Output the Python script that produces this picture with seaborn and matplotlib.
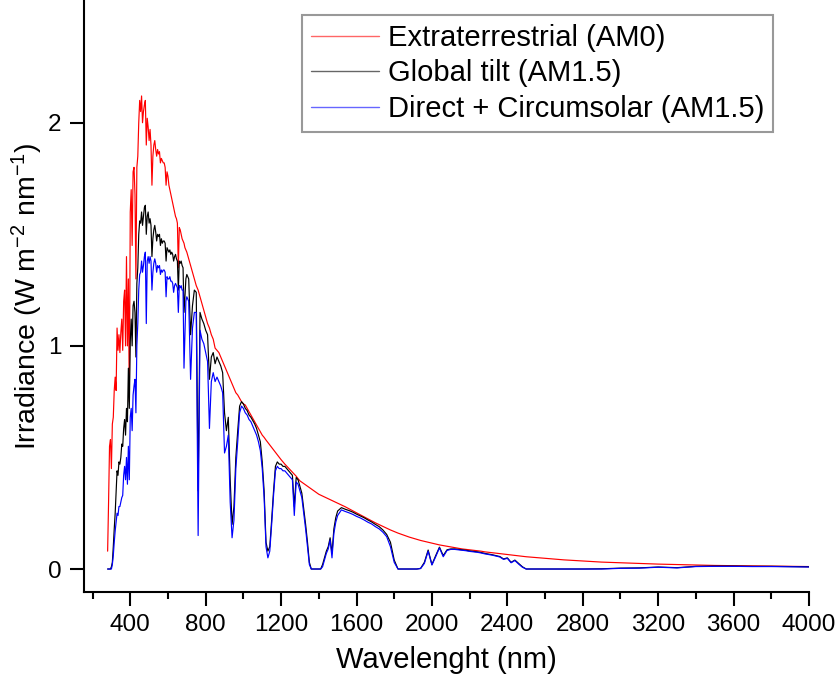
import matplotlib
matplotlib.use("Agg")
import matplotlib.pyplot as plt
from matplotlib.ticker import MultipleLocator
import seaborn as sns

# wavelength grid (nm), denser where the spectrum has structure
WAVELENGTH_NM = [
    280, 285, 290, 295, 300, 305, 310, 315, 320, 325,
    330, 335, 340, 345, 350, 355, 360, 365, 370, 375,
    380, 385, 390, 395, 400, 405, 410, 415, 420, 425,
    430, 435, 440, 445, 450, 455, 460, 465, 470, 475,
    480, 485, 490, 495, 500, 505, 510, 515, 520, 525,
    530, 535, 540, 545, 550, 555, 560, 565, 570, 575,
    580, 585, 590, 595, 600, 605, 610, 615, 620, 625,
    630, 635, 640, 645, 650, 655, 660, 665, 670, 675,
    680, 685, 690, 695, 700,
    710, 720, 730, 740, 750, 760, 770, 780, 790, 800,
    810, 820, 830, 840, 850, 860, 870, 880, 890, 900,
    910, 920, 930, 940, 950, 960, 970, 980, 990, 1000,
    1010, 1020, 1030, 1040, 1050, 1060, 1070, 1080, 1090, 1100,
    1110, 1120, 1130, 1140, 1150, 1160, 1170, 1180, 1190, 1200,
    1210, 1220, 1230, 1240, 1250, 1260, 1270, 1280, 1290, 1300,
    1310, 1320, 1330, 1340, 1350, 1360, 1370, 1380, 1390, 1400,
    1410, 1420, 1430, 1440, 1450, 1460, 1470, 1480, 1490, 1500,
    1520, 1540, 1560, 1580, 1600, 1620, 1640, 1660, 1680, 1700,
    1720, 1740, 1760, 1780, 1800, 1820, 1840, 1860, 1880, 1900,
    1920, 1940, 1960, 1980, 2000, 2020, 2040, 2060, 2080, 2100,
    2120, 2140, 2160, 2180, 2200, 2220, 2240, 2260, 2280, 2300,
    2320, 2340, 2360, 2380, 2400, 2420, 2440, 2460, 2480, 2500,
    2600, 2700, 2800, 2900, 3000, 3100, 3200, 3300, 3400, 3500,
    3600, 3700, 3800, 3900, 4000,
]

# irradiance, W m-2 nm-1
AM0 = [
    0.08, 0.30, 0.55, 0.58, 0.45, 0.65, 0.68, 0.80, 0.86, 0.80,
    1.08, 0.98, 1.05, 0.97, 1.06, 1.12, 0.98, 1.20, 1.25, 1.00,
    1.40, 1.00, 1.30, 0.75, 1.60, 1.70, 1.45, 1.78, 1.80, 1.68,
    1.30, 1.80, 1.85, 2.00, 2.10, 2.05, 2.12, 2.00, 2.05, 2.08,
    2.10, 1.90, 2.02, 1.98, 1.92, 1.97, 1.90, 1.72, 1.85, 1.90,
    1.92, 1.88, 1.85, 1.88, 1.86, 1.87, 1.82, 1.84, 1.83, 1.82,
    1.82, 1.80, 1.72, 1.78, 1.76, 1.72, 1.70, 1.68, 1.66, 1.64,
    1.62, 1.60, 1.58, 1.57, 1.55, 1.35, 1.53, 1.52, 1.50, 1.48,
    1.47, 1.46, 1.44, 1.43, 1.42,
    1.39, 1.36, 1.33, 1.30, 1.27, 1.25, 1.22, 1.19, 1.16, 1.13,
    1.10, 1.08, 1.05, 1.03, 0.99, 0.98, 0.97, 0.95, 0.93, 0.91,
    0.89, 0.87, 0.85, 0.83, 0.81, 0.79, 0.78, 0.765, 0.75, 0.74,
    0.735, 0.72, 0.705, 0.69, 0.675, 0.66, 0.645, 0.63, 0.615, 0.60,
    0.59, 0.578, 0.567, 0.556, 0.545, 0.534, 0.523, 0.512, 0.501, 0.49,
    0.48, 0.47, 0.461, 0.452, 0.443, 0.434, 0.425, 0.416, 0.405, 0.395,
    0.389, 0.383, 0.377, 0.371, 0.365, 0.359, 0.353, 0.347, 0.341, 0.335,
    0.331, 0.327, 0.323, 0.319, 0.315, 0.311, 0.307, 0.303, 0.299, 0.295,
    0.287, 0.279, 0.27, 0.261, 0.252, 0.243, 0.234, 0.225, 0.216, 0.207,
    0.199, 0.191, 0.183, 0.175, 0.168, 0.161, 0.155, 0.149, 0.143, 0.138,
    0.133, 0.128, 0.124, 0.12, 0.116, 0.112, 0.108, 0.105, 0.102, 0.099,
    0.096, 0.093, 0.09, 0.088, 0.086, 0.084, 0.082, 0.08, 0.077, 0.075,
    0.073, 0.071, 0.069, 0.067, 0.065, 0.063, 0.061, 0.059, 0.057, 0.055,
    0.048, 0.041, 0.036, 0.031, 0.028, 0.025, 0.022, 0.02, 0.018, 0.016,
    0.015, 0.014, 0.013, 0.012, 0.011,
]

AM15_GLOBAL = [
    0.0, 0.0, 0.0, 0.0, 0.01, 0.03, 0.10, 0.18, 0.25, 0.35,
    0.44, 0.42, 0.48, 0.47, 0.50, 0.56, 0.55, 0.63, 0.67, 0.60,
    0.72, 0.66, 0.90, 0.72, 1.02, 1.12, 1.00, 1.18, 1.20, 1.15,
    0.95, 1.28, 1.35, 1.50, 1.56, 1.55, 1.60, 1.54, 1.58, 1.62,
    1.63, 1.50, 1.58, 1.60, 1.55, 1.57, 1.54, 1.40, 1.48, 1.52,
    1.54, 1.51, 1.47, 1.50, 1.49, 1.50, 1.45, 1.48, 1.46, 1.47,
    1.47, 1.46, 1.38, 1.44, 1.43, 1.42, 1.43, 1.41, 1.42, 1.41,
    1.38, 1.40, 1.41, 1.39, 1.38, 1.25, 1.38, 1.37, 1.38, 1.36,
    1.35, 1.15, 1.22, 1.30, 1.32,
    1.30, 1.05, 1.18, 1.25, 1.24, 0.35, 1.15, 1.12, 1.10, 1.07,
    1.05, 0.85, 0.95, 0.97, 0.92, 0.95, 0.93, 0.91, 0.88, 0.70,
    0.62, 0.68, 0.40, 0.20, 0.28, 0.50, 0.62, 0.73, 0.75, 0.74,
    0.72, 0.71, 0.69, 0.68, 0.665, 0.65, 0.63, 0.60, 0.57, 0.48,
    0.35, 0.12, 0.08, 0.10, 0.22, 0.35, 0.46, 0.48, 0.47, 0.47,
    0.46, 0.46, 0.45, 0.44, 0.43, 0.42, 0.28, 0.41, 0.40, 0.37,
    0.34, 0.27, 0.20, 0.12, 0.03, 0.0, 0.0, 0.0, 0.0, 0.0,
    0.0, 0.02, 0.05, 0.08, 0.10, 0.14, 0.07, 0.18, 0.23, 0.26,
    0.275, 0.268, 0.262, 0.255, 0.246, 0.238, 0.23, 0.22, 0.211, 0.2,
    0.19, 0.175, 0.155, 0.12, 0.04, 0.0, 0.0, 0.0, 0.0, 0.0,
    0.0, 0.003, 0.03, 0.085, 0.02, 0.06, 0.098, 0.06, 0.086, 0.09,
    0.09, 0.088, 0.086, 0.084, 0.081, 0.079, 0.077, 0.074, 0.07, 0.067,
    0.064, 0.06, 0.056, 0.045, 0.05, 0.03, 0.04, 0.025, 0.01, 0.0,
    0.0, 0.0, 0.0, 0.001, 0.004, 0.005, 0.009, 0.006, 0.012, 0.013,
    0.013, 0.012, 0.012, 0.011, 0.010,
]

AM15_DIRECT = [
    0.0, 0.0, 0.0, 0.0, 0.0, 0.02, 0.06, 0.12, 0.17, 0.21,
    0.25, 0.24, 0.28, 0.28, 0.30, 0.32, 0.33, 0.42, 0.46, 0.40,
    0.50, 0.38, 0.55, 0.40, 0.68, 0.72, 0.62, 0.78, 0.82, 0.85,
    0.70, 1.00, 1.10, 1.25, 1.32, 1.33, 1.38, 1.33, 1.36, 1.40,
    1.42, 1.10, 1.38, 1.40, 1.37, 1.40, 1.38, 1.25, 1.33, 1.37,
    1.39, 1.37, 1.33, 1.36, 1.35, 1.36, 1.32, 1.34, 1.33, 1.34,
    1.34, 1.33, 1.22, 1.31, 1.30, 1.30, 1.31, 1.29, 1.29, 1.28,
    1.24, 1.27, 1.28, 1.27, 1.26, 1.15, 1.27, 1.26, 1.27, 1.25,
    1.25, 0.90, 1.05, 1.20, 1.22,
    1.20, 0.85, 1.08, 1.15, 1.15, 0.15, 1.07, 1.03, 1.01, 0.97,
    0.93, 0.63, 0.84, 0.88, 0.84, 0.86, 0.84, 0.82, 0.79, 0.52,
    0.55, 0.60, 0.30, 0.14, 0.22, 0.45, 0.57, 0.70, 0.73, 0.72,
    0.70, 0.69, 0.67, 0.66, 0.64, 0.62, 0.60, 0.57, 0.53, 0.45,
    0.32, 0.10, 0.05, 0.08, 0.20, 0.33, 0.44, 0.46, 0.45, 0.45,
    0.44, 0.44, 0.43, 0.42, 0.41, 0.40, 0.24, 0.39, 0.38, 0.35,
    0.32, 0.25, 0.18, 0.10, 0.02, 0.0, 0.0, 0.0, 0.0, 0.0,
    0.0, 0.01, 0.04, 0.07, 0.09, 0.13, 0.05, 0.16, 0.21, 0.24,
    0.265, 0.258, 0.252, 0.245, 0.236, 0.229, 0.22, 0.21, 0.202, 0.19,
    0.18, 0.165, 0.145, 0.10, 0.03, 0.0, 0.0, 0.0, 0.0, 0.0,
    0.0, 0.002, 0.025, 0.08, 0.018, 0.055, 0.095, 0.055, 0.083, 0.088,
    0.088, 0.086, 0.084, 0.082, 0.079, 0.077, 0.075, 0.072, 0.068, 0.065,
    0.062, 0.058, 0.054, 0.043, 0.048, 0.028, 0.038, 0.022, 0.008, 0.0,
    0.0, 0.0, 0.0, 0.0, 0.003, 0.004, 0.008, 0.005, 0.011, 0.012,
    0.012, 0.011, 0.011, 0.010, 0.009,
]

SERIES = [
    ("Extraterrestrial (AM0)", AM0, "#ff0000"),
    ("Global tilt (AM1.5)", AM15_GLOBAL, "#000000"),
    ("Direct + Circumsolar (AM1.5)", AM15_DIRECT, "#0000ff"),
]

for _, vals, _ in SERIES:
    assert len(vals) == len(WAVELENGTH_NM)

sns.set_style("ticks")
plt.rcParams["font.family"] = ["Liberation Sans", "DejaVu Sans"]
plt.rcParams["mathtext.fontset"] = "custom"
plt.rcParams["mathtext.rm"] = "Liberation Sans"
plt.rcParams["mathtext.it"] = "Liberation Sans:italic"
plt.rcParams["text.color"] = "black"
plt.rcParams["axes.labelcolor"] = "black"
plt.rcParams["xtick.color"] = "black"
plt.rcParams["ytick.color"] = "black"

fig = plt.figure(figsize=(8.39, 6.81), dpi=100)
ax = fig.add_axes([83.5 / 839, 89 / 681, (809 - 83.5) / 839, 592 / 681])

for label, vals, color in SERIES:
    sns.lineplot(x=WAVELENGTH_NM, y=vals, color=color, lw=0.85, label=label,
                 estimator=None, sort=False, ax=ax)

ax.set_xlim(152, 4000)
ax.set_ylim(-0.103, 2.55)
ax.set_xticks(range(400, 4001, 400))
ax.xaxis.set_minor_locator(MultipleLocator(200))
ax.set_yticks([0, 1, 2])

for side in ["top", "right"]:
    ax.spines[side].set_visible(False)
for side in ["left", "bottom"]:
    ax.spines[side].set_linewidth(1.5)
    ax.spines[side].set_color("black")

ax.tick_params(which="major", direction="out", length=10, width=1.5,
               labelsize=17.5, pad=6, color="black", labelcolor="black")
ax.tick_params(which="minor", direction="out", length=5, width=1.5, color="black")
ax.tick_params(axis="y", which="minor", left=False)

ax.set_xlabel("Wavelenght (nm)", fontsize=21, labelpad=7, color="black")
ax.set_ylabel("Irradiance (W m$^{\\mathrm{-2}}$ nm$^{\\mathrm{-1}}$)",
              fontsize=20.5, labelpad=2, color="black")

leg = ax.legend(loc="upper right", bbox_to_anchor=(773 / 839, 1 - 15 / 681),
                bbox_transform=fig.transFigure, frameon=True, fancybox=False,
                edgecolor="#808080", fontsize=21, handlelength=2.35,
                handletextpad=0.3, labelspacing=0.26, borderpad=0.3,
                borderaxespad=0)
leg.get_frame().set_linewidth(1.5)
for line in leg.get_lines():
    line.set_linewidth(1.0)
    line.set_alpha(0.6)

fig.savefig("out.png", dpi=100)
